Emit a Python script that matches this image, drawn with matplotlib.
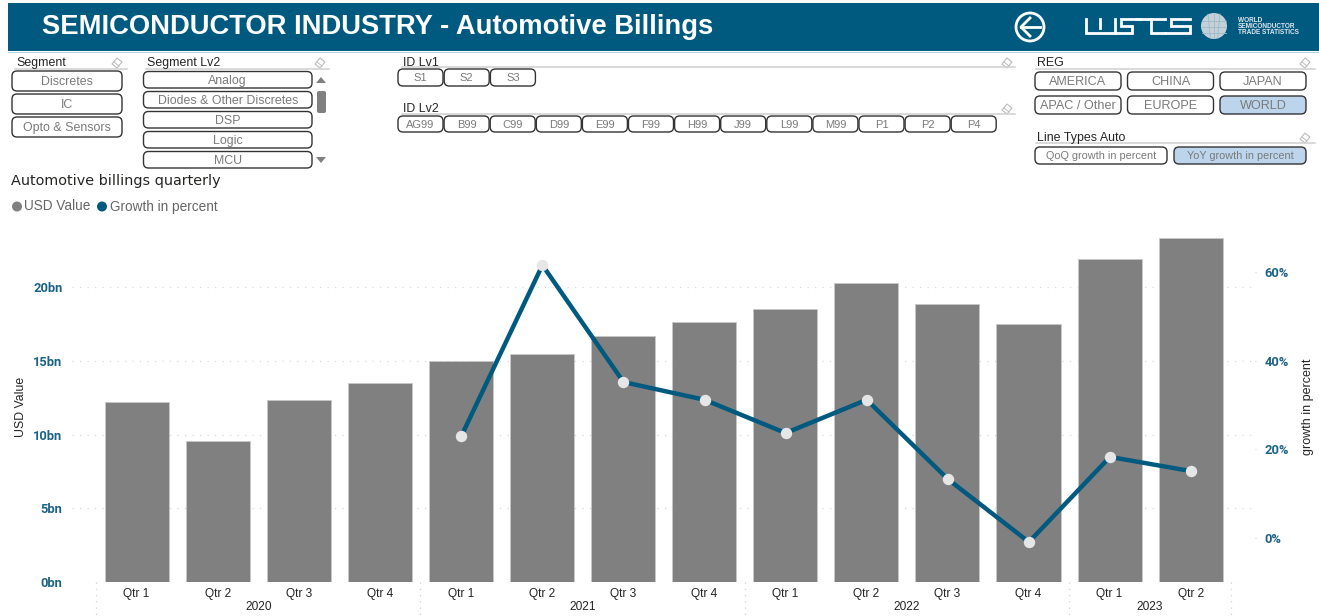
import numpy as np
import matplotlib
matplotlib.use("Agg")
import matplotlib.pyplot as plt
from matplotlib.patches import FancyBboxPatch, Rectangle, Circle, Polygon

# --- data
quarters = ["Qtr 1", "Qtr 2", "Qtr 3", "Qtr 4", "Qtr 1", "Qtr 2", "Qtr 3", "Qtr 4",
            "Qtr 1", "Qtr 2", "Qtr 3", "Qtr 4", "Qtr 1", "Qtr 2"]
years = ["2020", "2021", "2022", "2023"]
year_counts = [4, 4, 4, 2]
usd_value = [12.2, 9.56, 12.34, 13.46, 14.98, 15.46, 16.68, 17.63, 18.5, 20.27,
             18.88, 17.49, 21.9, 23.32]
growth = [None, None, None, None, 23.0, 61.6, 35.2, 31.2, 23.7, 31.2, 13.3, -0.9, 18.3, 15.1]
usd_ticks = [0, 5, 10, 15, 20]
growth_ticks = [0, 20, 40, 60]

segment = ["Discretes", "IC", "Opto & Sensors"]
segment_lv2 = ["Analog", "Diodes & Other Discretes", "DSP", "Logic", "MCU"]
id_lv1 = ["S1", "S2", "S3"]
id_lv2 = ["AG99", "B99", "C99", "D99", "E99", "F99", "H99", "J99", "L99", "M99", "P1", "P2", "P4"]
reg = ["AMERICA", "CHINA", "JAPAN", "APAC / Other", "EUROPE", "WORLD"]
line_types = ["QoQ growth in percent", "YoY growth in percent"]

BLUE = "#005a80"
GREY = "#808080"
TEXT = "#252423"
SEL = "#bcd5ec"
TICK = "#1a6286"
W, H = 1319, 616
plt.rcParams['font.family'] = ['Liberation Sans', 'DejaVu Sans']

fig = plt.figure(figsize=(W / 100, H / 100), dpi=100)

# --- chart, axes placed in figure pixels
left, right, top, bottom = 72, 1255, 232, 582
ax = fig.add_axes([left / W, 1 - bottom / H, (right - left) / W, (bottom - top) / H])
step = 81.08
first = 136.6
ax.set_xlim((left - first) / step, (right - first) / step)
ax.set_ylim(0, (bottom - top) / 14.75)
x = np.arange(len(quarters))
ax.bar(x, usd_value, width=0.79, color=GREY, edgecolor="#c8c8c8", linewidth=0.6, zorder=2)
ax.set_yticks(usd_ticks, [f"{t}bn" for t in usd_ticks], family="Roboto", fontweight="bold",
              fontsize=9.3, color=TICK)
ax.grid(axis="y", color="#d8d8d8", linestyle=(0, (1, 5)), linewidth=0.9, zorder=0)
ax.set_xticks(x, quarters, fontsize=8.6, color=TEXT)
ax.tick_params(axis="x", length=0, pad=4)
ax.tick_params(axis="y", length=0, pad=7)
ax.set_ylabel("USD Value", fontsize=8.8, color=TEXT, labelpad=4, y=0.5)
for s in ax.spines.values():
    s.set_visible(False)

ax2 = ax.twinx()
ax2.set_ylim((538 - bottom) / 4.43, (538 - top) / 4.43)
ax2.plot(np.arange(len(growth)) + 0.005, [np.nan if g is None else g for g in growth], color=BLUE, lw=3.2,
         marker="o", ms=7.2, mfc="#e6e6e6", mec="#e6e6e6", zorder=5, clip_on=False)
ax2.set_yticks(growth_ticks, [f"{t}%" for t in growth_ticks], family="Roboto", fontweight="bold",
               fontsize=9.3, color=TICK)
ax2.tick_params(axis="y", length=1, width=0.8, color="#d0d0d0", pad=6)
ax2.set_ylabel("growth in percent", fontsize=9, color=TEXT, labelpad=9)
for s in ax2.spines.values():
    s.set_visible(False)

# --- overlay in pixel coordinates for the report frame
ui = fig.add_axes([0, 0, 1, 1], zorder=10)
ui.set_xlim(0, W)
ui.set_ylim(H, 0)
ui.axis("off")
ui.patch.set_alpha(0)


def button(x0, y0, x1, y1, label, size=8.9, sel=False):
    ui.add_patch(FancyBboxPatch((x0 + 4, y0 + 4), x1 - x0 - 8, y1 - y0 - 8,
                                boxstyle="round,pad=4,rounding_size=5", fc=SEL if sel else "white",
                                ec="#333333", lw=1.0))
    ui.text((x0 + x1) / 2, (y0 + y1) / 2 + 0.8, label, ha="center", va="center", fontsize=size,
            color="#7a7a7a")


def eraser(cx, cy):
    ui.add_patch(Polygon([(cx - 5, cy + 1), (cx, cy - 5), (cx + 5, cy - 1), (cx, cy + 5)],
                         closed=True, fc="white", ec="#bcbcbc", lw=0.8))
    ui.plot([cx - 3, cx + 2], [cy - 1, cy + 3], color="#bcbcbc", lw=0.7)


def slicer(x0, x1, ytext, yline, label, x_eraser):
    ui.text(x0 + 1, ytext + 0.8, label, fontsize=8.9, color=TEXT, va="center")
    ui.plot([x0, x1], [yline, yline], color="#cfcfcf", lw=1.1)
    eraser(x_eraser, ytext + 1)


# header
ui.add_patch(Rectangle((8, 3), W - 8, 48, fc=BLUE, ec="none"))
ui.plot([8, W], [51.5, 51.5], color="#b5d3e6", lw=0.8)
ui.text(42, 27, "SEMICONDUCTOR INDUSTRY - Automotive Billings", color="white", fontsize=19.7,
        fontweight="bold", va="center")
ui.add_patch(Circle((1030, 27), 14, fc="none", ec="white", lw=2))
ui.plot([1021, 1040], [27, 27], color="white", lw=2)
ui.plot([1030, 1021, 1030], [18, 27, 36], color="white", lw=2)

# logo letters
logo = [
    [(1086, 19), (1086, 33), (1115, 33), (1115, 19)],
    [(1100, 19), (1100, 28)],
    [(1140, 19), (1121, 19), (1121, 26), (1132, 26), (1132, 33), (1115, 33)],
    [(1136, 19), (1165, 19)],
    [(1151, 19), (1151, 33), (1165, 33)],
    [(1190, 19), (1171, 19), (1171, 26), (1190, 26), (1190, 33), (1165, 33)],
]
for seg in logo:
    ui.plot(*zip(*seg), color="white", lw=2.0, solid_joinstyle="miter")
ui.add_patch(Circle((1214, 26), 13, fc="#c3d0d8", ec="none"))
for dx in (-6, 0, 6):
    ui.plot([1214 + dx, 1214 + dx * 0.6], [14, 38], color="#9fbacb", lw=0.6)
for dy in (-5, 1, 7):
    ui.plot([1202, 1226], [26 + dy, 26 + dy], color="#9fbacb", lw=0.6)
for i, t in enumerate(["WORLD", "SEMICONDUCTOR", "TRADE STATISTICS"]):
    ui.text(1238, 20 + i * 6, t, color="#dce6ec", fontsize=4.7, fontweight="bold", va="center")

# slicers
slicer(15, 127, 62, 69, "Segment", 117)
for i, s in enumerate(segment):
    button(12, 71 + i * 23, 122, 91 + i * 23, s)

slicer(146, 329, 62, 69, "Segment Lv2", 320)
for i, s in enumerate(segment_lv2):
    button(143.5, 71.5 + i * 20, 312, 88 + i * 20, s)
ui.add_patch(Polygon([(316, 83), (326, 83), (321, 77)], fc="#808080", ec="none"))
ui.add_patch(Polygon([(316, 157), (326, 157), (321, 163)], fc="#808080", ec="none"))
ui.add_patch(FancyBboxPatch((318, 92), 7, 20, boxstyle="round,pad=1,rounding_size=2", fc="#808080", ec="none"))

slicer(402, 1015, 62, 67, "ID Lv1", 1007)
for i, s in enumerate(id_lv1):
    button(398 + i * 46.2, 69, 443 + i * 46.2, 86, s, size=8)

slicer(402, 1015, 108, 114, "ID Lv2", 1007)
for i, s in enumerate(id_lv2):
    button(398 + i * 46.1, 116, 443 + i * 46.1, 132, s, size=8)

slicer(1036, 1315, 62, 69, "REG", 1305)
for i, s in enumerate(reg):
    col, row = i % 3, i // 3
    button(1035 + col * 92.5, 72 + row * 24, 1121 + col * 92.5, 90 + row * 24, s,
           size=9.1, sel=s == "WORLD")

slicer(1036, 1315, 137, 143, "Line Types Auto", 1305)
button(1035, 147, 1167, 164, line_types[0], size=7.8)
button(1174, 147, 1306, 164, line_types[1], size=7.8, sel=True)

# chart title and legend
ui.text(11, 181, "Automotive billings quarterly", family="DejaVu Sans", fontsize=10.4, color=TEXT, va="center")
ui.add_patch(Circle((17, 206.5), 5, fc=GREY, ec="none"))
ui.text(24, 206.5, "USD Value", fontsize=9.8, color="#666666", va="center")
ui.add_patch(Circle((102, 206.5), 5, fc=BLUE, ec="none"))
ui.text(110, 206.5, "Growth in percent", fontsize=9.8, color="#666666", va="center")

# year labels and separators below the axis
start = 0
for yr, n in zip(years, year_counts):
    x0 = first + (start - 0.5) * step
    ui.plot([x0, x0], [582, 615], color="#d0d0d0", ls=(0, (1, 4)), lw=0.9)
    ui.text(x0 + n * step / 2, 606.5, yr, ha="center", va="center", fontsize=8.6, color=TEXT)
    start += n
x0 = first + (start - 0.5) * step
ui.plot([x0, x0], [582, 615], color="#d0d0d0", ls=(0, (1, 4)), lw=0.9)

fig.savefig("out.png", dpi=100)
